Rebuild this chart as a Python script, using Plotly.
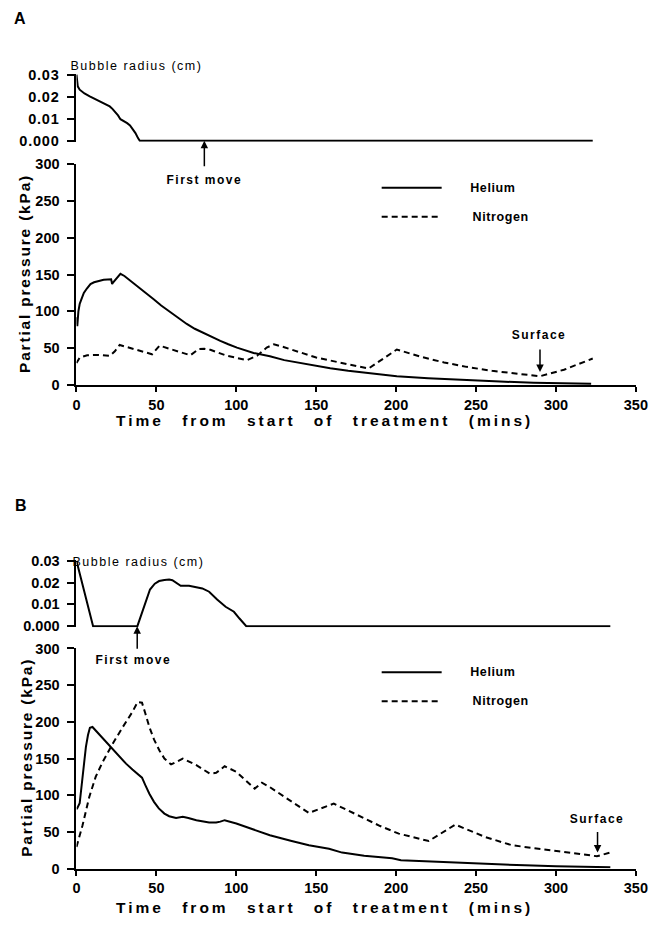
import json
import plotly.graph_objects as go

# ---------------- data ----------------
# Panel A - bubble radius (cm)
t_bub_A = [0, 0.8, 2, 5, 8.3, 14.6, 20.8, 22.5, 24, 26, 27.5, 29.5, 31.7, 33.5, 34.8, 36.9, 38.5, 39.6, 323]
r_bub_A = [0.030, 0.0247, 0.0232, 0.0215, 0.0202, 0.0179, 0.0156, 0.0145, 0.0133, 0.0115, 0.0098,
           0.0090, 0.0080, 0.0070, 0.0058, 0.0035, 0.0012, 0.0, 0.0]

# Panel A - helium partial pressure (kPa)
t_he_A = [0, 0.5, 1.2, 2, 3, 4.6, 6.5, 8.75, 11, 13, 17, 21.7, 22.3, 23, 24.4, 26, 27.5, 30, 33, 37.9,
          43, 48.3, 53, 58.75, 64, 69, 74, 79.6, 85, 90, 95, 100.4, 110.8, 121, 130, 140, 150, 158.75,
          170, 181.7, 200.4, 220, 244, 265, 286, 305, 322]
he_A = [92, 80, 100, 110, 116, 125, 131, 137, 139.5, 141, 143, 143.5, 137, 139.5, 143, 147, 151, 148,
        143, 134, 125.5, 116.5, 108, 98.7, 90.5, 83, 76.5, 70.5, 65, 60, 55.5, 51, 43.75, 39.3, 34, 30,
        26, 23, 19.5, 17, 12.2, 9.5, 6.8, 5, 3.5, 2.7, 2]

# Panel A - nitrogen partial pressure (kPa)
t_n2_A = [0, 2, 6.7, 13, 21, 24, 27, 33.75, 40, 47.3, 52, 58.75, 65, 71.25, 76.5, 80, 83.75, 94, 106.7,
          113, 119, 123.5, 130, 140, 150, 158.75, 170, 182.7, 200.4, 215, 230, 244, 260, 275, 290, 305, 323]
n2_A = [30, 37.5, 40.6, 41, 40, 46, 54.5, 50.4, 46.5, 42, 53.6, 48.7, 45, 40.6, 49, 49.5, 48, 40, 34,
        40, 51, 55.5, 51.5, 44, 37.5, 33.5, 28.5, 22.6, 48.4, 38.8, 30.8, 24.9, 19.5, 15.5, 12.2, 21, 36.2]

# Panel B - bubble radius (cm)
t_bub_B = [0, 10.4, 38.1, 42, 46, 49, 51.7, 55, 58, 60, 62.5, 65.2, 70.4, 75, 78.75, 83, 85.5, 88,
           93.3, 98.5, 102, 106.25, 334]
r_bub_B = [0.030, 0.0, 0.0, 0.008, 0.0168, 0.0195, 0.0207, 0.0212, 0.0214, 0.0211, 0.0198, 0.0185,
           0.0185, 0.0180, 0.0173, 0.0158, 0.0140, 0.0122, 0.0089, 0.0066, 0.0035, 0.0, 0.0]

# Panel B - helium partial pressure (kPa)
t_he_B = [0, 0.4, 2, 4, 5.9, 7.2, 8.4, 10, 15, 20.5, 26, 31, 35, 39.3, 41, 43, 45.6, 48.5, 51.5, 55,
          58, 62.3, 66.5, 70, 75, 83, 87.4, 90, 92.7, 100, 110.5, 121, 134, 145.4, 158, 166.2, 180,
          197.5, 203, 220, 239, 260, 280.6, 300, 320, 334]
he_B = [82, 82, 89, 130, 166, 182, 192, 193, 181, 168, 155, 143, 135, 127, 124, 114, 102, 91, 82, 75,
        71.4, 69, 70.5, 69, 66, 62.7, 62.7, 64, 66, 61.4, 53, 45.5, 38, 31.8, 27, 21.8, 17.5,
        14, 11.3, 9.7, 7.7, 6, 4.5, 3.3, 2.5, 2]

# Panel B - nitrogen partial pressure (kPa)
t_n2_B = [0, 3.8, 8, 12, 16.3, 22.6, 29, 35, 38.3, 41, 43, 45.6, 48.5, 51.9, 55, 59.2, 63, 66.5, 75,
          83.3, 87.4, 92.7, 100, 111.5, 116, 121, 130, 145.4, 161, 176.6, 190, 201.6, 220.4, 237,
          255.8, 272.5, 290, 301.7, 315, 325.6, 334]
n2_B = [29.5, 59, 97.7, 125, 145, 170, 193, 213.6, 227, 226, 212, 193, 176, 161, 150, 142, 146, 150,
        141, 129.5, 130.5, 139.5, 132, 109, 117, 111, 98, 75.8, 88.6, 72.7, 58, 47.7, 37.6, 60, 43,
        31.8, 27.5, 23.6, 20, 16.8, 22]

# events (time in mins, and the value the arrow points to)
first_move_A = 80
surface_A = (290, 18)
first_move_B = 38
surface_B = (326, 22)

# axis ticks
x_ticks = [0, 50, 100, 150, 200, 250, 300, 350]
p_ticks = [0, 50, 100, 150, 200, 250, 300]
r_tickvals = [0, 0.01, 0.02, 0.03]
r_ticktext = ["0.000", "0.01", "0.02", "0.03"]

# ---------------- layout helpers ----------------
W, H = 650, 928
# compensation for the slight scaling/offset with which the page is photographed
SX, BX, SY, BY = 0.9757, 4.2, 0.982, 8.35


def px(x):
    return (x - BX) / SX / W


def py(y):
    return 1 - (y - BY) / SY / H


FONT = "Liberation Sans, Arial, Helvetica, sans-serif"
X_DOM = [px(76.7), px(636.3)]

solid = dict(color="black", width=2)
dashed = dict(color="black", width=2, dash="6px,4px")

fig = go.Figure()
fig.add_trace(go.Scatter(x=t_bub_A, y=r_bub_A, xaxis="x", yaxis="y", mode="lines", line=solid, name="Bubble radius A"))
fig.add_trace(go.Scatter(x=t_he_A, y=he_A, xaxis="x2", yaxis="y2", mode="lines", line=solid, name="Helium"))
fig.add_trace(go.Scatter(x=t_n2_A, y=n2_A, xaxis="x2", yaxis="y2", mode="lines", line=dashed, name="Nitrogen"))
fig.add_trace(go.Scatter(x=t_bub_B, y=r_bub_B, xaxis="x3", yaxis="y3", mode="lines", line=solid, name="Bubble radius B"))
fig.add_trace(go.Scatter(x=t_he_B, y=he_B, xaxis="x4", yaxis="y4", mode="lines", line=solid, name="Helium"))
fig.add_trace(go.Scatter(x=t_n2_B, y=n2_B, xaxis="x4", yaxis="y4", mode="lines", line=dashed, name="Nitrogen"))

tickfont = dict(family=FONT, size=14.5, color="black", weight="bold")
common_axis = dict(showline=True, linecolor="black", linewidth=2, ticks="outside", tickcolor="black",
                   tickwidth=2, showgrid=False, zeroline=False, tickfont=tickfont)

hidden_x = dict(domain=X_DOM, range=[0, 350], visible=False, fixedrange=True)
shown_x = dict(domain=X_DOM, range=[0, 350], tickvals=x_ticks, ticklen=5, ticklabelstandoff=0,
               ticklabeloverflow="allow", **common_axis)

# bubble axes: range padded by ~1px so the zero line is not clipped
fig.update_layout(
    width=W, height=H,
    autosize=False,
    margin=dict(l=0, r=0, t=0, b=0, pad=0),
    paper_bgcolor="white", plot_bgcolor="white",
    showlegend=False,
    font=dict(family=FONT, color="black"),
    xaxis=dict(anchor="y", **hidden_x),
    yaxis=dict(anchor="x", domain=[py(142.1), py(73.9)], range=[-0.0005, 0.0305],
               tickvals=r_tickvals, ticktext=r_ticktext, ticklen=7, ticklabelstandoff=5, **common_axis),
    xaxis2=dict(anchor="y2", **shown_x),
    yaxis2=dict(anchor="x2", domain=[py(385.3), py(164)], range=[0, 300],
                tickvals=p_ticks, ticklen=7, ticklabelstandoff=5, **common_axis),
    xaxis3=dict(anchor="y3", **hidden_x),
    yaxis3=dict(anchor="x3", domain=[py(627.1), py(559.6)], range=[-0.0005, 0.0305],
                tickvals=r_tickvals, ticktext=r_ticktext, ticklen=7, ticklabelstandoff=5, **common_axis),
    xaxis4=dict(anchor="y4", **shown_x),
    yaxis4=dict(anchor="x4", domain=[py(868.3), py(648.3)], range=[0, 300],
                tickvals=p_ticks, ticklen=7, ticklabelstandoff=5, **common_axis),
)

bold = lambda s: dict(family=FONT, size=s, color="black", weight="bold")
normal = lambda s: dict(family=FONT, size=s, color="black")

ann = []


def text_ann(text, x, y, font, angle=0):
    ann.append(dict(text=text, x=px(x), y=py(y), xref="paper", yref="paper", showarrow=False,
                    xanchor="center", yanchor="middle", font=font, textangle=angle, borderpad=0))


# 0,1 panel letters
text_ann("A", 20.5, 19, bold(16))
text_ann("B", 21, 505, bold(16))
# 2,3 bubble radius labels
text_ann("Bubble radius (cm)", 136.5, 66.7, normal(12.5))
text_ann("Bubble radius (cm)", 138.4, 561.7, normal(12.5))
# 4,5 y titles
text_ann("Partial pressure (kPa)", 25, 273.5, bold(15.5), angle=-90)
text_ann("Partial pressure (kPa)", 26.5, 757.5, bold(15.5), angle=-90)
# 6,7 x titles
text_ann("Time from start of treatment (mins)", 325, 420.5, bold(15.5))
text_ann("Time from start of treatment (mins)", 325, 907, bold(15.5))
# 8,9 first move
text_ann("First move", 205, 180, bold(12))
text_ann("First move", 134, 660, bold(12))
# 10,11 surface
text_ann("Surface", 539.7, 335, bold(12))
text_ann("Surface", 597.4, 819, bold(12))
# 12-15 legend labels
text_ann("Helium", 493.4, 188, bold(12.5))
text_ann("Nitrogen", 500.9, 217, bold(12.5))
text_ann("Helium", 493.4, 672, bold(12.5))
text_ann("Nitrogen", 500.9, 701, bold(12.5))

# arrows (text-less annotations)
arrow_style = dict(text="", showarrow=True, arrowhead=2, arrowsize=1, arrowwidth=1.5,
                   arrowcolor="black", axref="pixel", ayref="pixel", ax=0)
ann.append(dict(x=first_move_A, y=0, xref="x", yref="y", ay=27, **arrow_style))
ann.append(dict(x=surface_A[0], y=surface_A[1], xref="x2", yref="y2", ay=-24, **arrow_style))
ann.append(dict(x=first_move_B, y=0, xref="x3", yref="y3", ay=24, **arrow_style))
ann.append(dict(x=surface_B[0], y=surface_B[1], xref="x4", yref="y4", ay=-22, **arrow_style))

fig.update_layout(annotations=ann)

# legend line samples
shapes = []
for y_he, y_n2 in [(188, 217), (672, 701)]:
    shapes.append(dict(type="line", xref="paper", yref="paper", x0=px(382), x1=px(442),
                       y0=py(y_he), y1=py(y_he), line=solid))
    shapes.append(dict(type="line", xref="paper", yref="paper", x0=px(382), x1=px(442),
                       y0=py(y_n2), y1=py(y_n2), line=dashed))
fig.update_layout(shapes=shapes)

css = """
html, body { margin: 0 !important; padding: 0 !important; overflow: hidden !important;
             width: 650px !important; height: 928px !important; }
.plotly-graph-div { position: fixed !important; left: 0 !important; top: 0 !important; }
.main-svg { overflow: visible !important; }
.xtick text, .ytick text { letter-spacing: 0.8px; }
g.annotation[data-index="2"] text, g.annotation[data-index="3"] text { letter-spacing: 1.5px; }
g.annotation[data-index="4"] text, g.annotation[data-index="5"] text { letter-spacing: 1.8px; }
g.annotation[data-index="6"] text, g.annotation[data-index="7"] text { letter-spacing: 3px; word-spacing: 11px; }
g.annotation[data-index="8"] text, g.annotation[data-index="9"] text,
g.annotation[data-index="10"] text, g.annotation[data-index="11"] text { letter-spacing: 1.5px; }
g.annotation[data-index="12"] text, g.annotation[data-index="13"] text,
g.annotation[data-index="14"] text, g.annotation[data-index="15"] text { letter-spacing: 0.6px; }
"""
post = ("var s=document.createElement('style');s.textContent=" + json.dumps(css)
        + ";document.head.appendChild(s);window.scrollTo(0,0);")
fig.write_html("out.html", post_script=post, config={"displayModeBar": False})
